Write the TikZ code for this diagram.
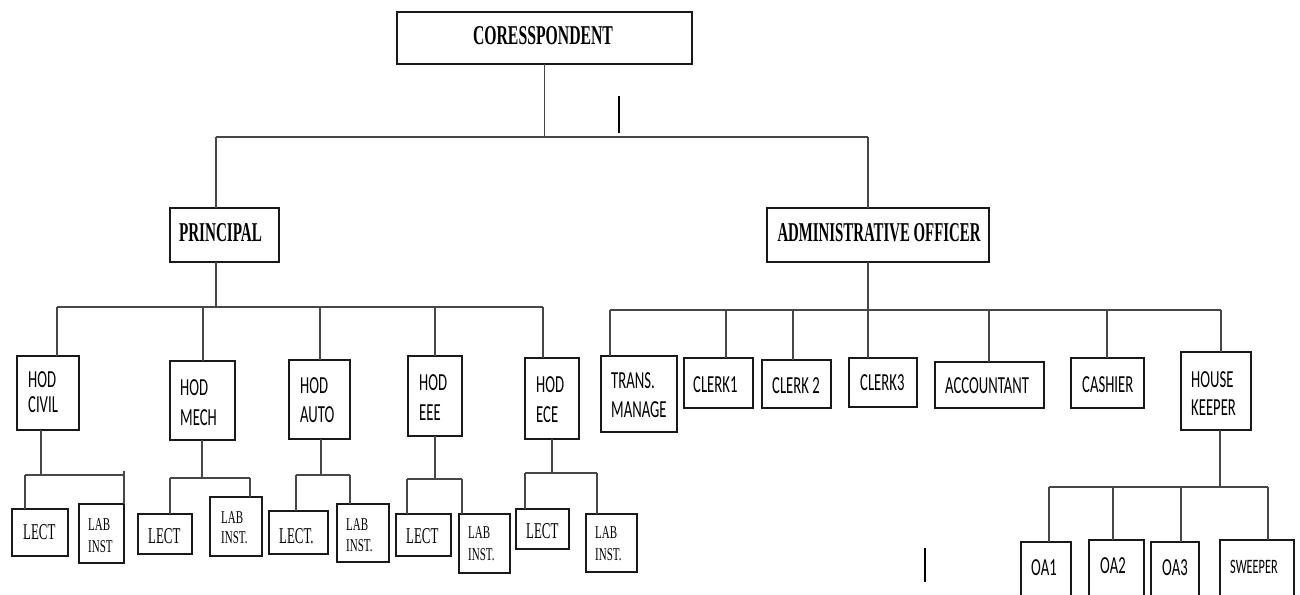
\documentclass[tikz,border=0pt]{standalone}
\usepackage{fontspec}
\setmainfont{Liberation Serif}
\newfontfamily\carlfont{Carlito}
\usepackage{graphicx}
\newcommand\mkbox[5]{\node[box,minimum width={#4pt-#2pt},minimum height={#5pt-#3pt}] (#1) at (#2,#3) {};}
\newcommand\stxt[4]{\node[sanst] (#1) at (#2,#3) {\scalebox{0.6}[1]{#4}};}
\newcommand\smtxt[4]{\node[sanssm] (#1) at (#2,#3) {\scalebox{0.6}[1]{#4}};}
\newcommand\lecttxt[4]{\node[lectt] (#1) at (#2,#3) {\scalebox{0.57}[1]{#4}};}
\newcommand\labtxt[4]{\node[labt] (#1) at (#2,#3) {\scalebox{0.61}[1]{#4}};}
\begin{document}
\begin{tikzpicture}[x=1pt,y=-1pt,
  box/.style={draw=black!90,line width=1.3pt,inner sep=0pt,outer sep=0pt,anchor=north west,fill=white},
  conn/.style={draw=black!72,line width=1.3pt},
  stray/.style={draw=black,line width=2pt},
  sanst/.style={anchor=base west,inner sep=0pt,font=\carlfont\fontsize{24.5}{24.5}\selectfont},
  sanssm/.style={anchor=base west,inner sep=0pt,font=\carlfont\fontsize{20.5}{20.5}\selectfont},
  lectt/.style={anchor=base west,inner sep=0pt,font=\fontsize{22.6}{22.6}\selectfont},
  labt/.style={anchor=base west,inner sep=0pt,font=\fontsize{18}{18}\selectfont},
  toptxt/.style={anchor=base,inner sep=0pt}]
\useasboundingbox (0,0) rectangle (1300,594);
\fill[white] (0,0) rectangle (1300,594);
\clip (0,0) rectangle (1300,594);

% ---------- boxes ----------
\mkbox{cor}{397}{12}{692}{64}
\mkbox{prin}{170}{208}{279}{262}
\mkbox{ao}{767}{208}{989}{262}
\mkbox{hcivil}{17}{356}{79}{430}
\mkbox{hmech}{170}{361}{235}{440}
\mkbox{hauto}{289}{360}{350}{439}
\mkbox{heee}{408}{356}{462}{436}
\mkbox{hece}{525}{358}{579}{439}
\mkbox{trans}{601}{356}{677}{432}
\mkbox{clerka}{684}{358}{753}{408}
\mkbox{clerkb}{762}{360}{831}{408}
\mkbox{clerkc}{849}{358}{917}{407}
\mkbox{acc}{935}{362}{1044}{408}
\mkbox{cash}{1071}{358}{1144}{408}
\mkbox{house}{1181}{352}{1251}{430}
\mkbox{lecta}{12}{509}{68}{556}
\mkbox{laba}{79}{504}{124}{563}
\mkbox{lectb}{138}{514}{192}{554}
\mkbox{labb}{210}{497}{262}{556}
\mkbox{lectc}{269}{511}{328}{554}
\mkbox{labc}{337}{504}{389}{562}
\mkbox{lectd}{396}{514}{451}{556}
\mkbox{labd}{459}{514}{510}{573}
\mkbox{lecte}{516}{509}{569}{549}
\mkbox{labe}{586}{514}{637}{572}
\mkbox{oaa}{1021}{542}{1071}{604}
\mkbox{oab}{1089}{540}{1144}{604}
\mkbox{oac}{1151}{542}{1199}{604}
\mkbox{sweep}{1220}{540}{1294}{604}

% ---------- bus coordinates ----------
\coordinate (tbL) at (216,137);
\coordinate (tbR) at (868,137);
\coordinate (p1) at (57,307);
\coordinate (p2) at (203,307);
\coordinate (p3) at (320,307);
\coordinate (p4) at (435,307);
\coordinate (p5) at (543,307);
\coordinate (pc) at (216,307);
\coordinate (cL) at (25,475);
\coordinate (c0) at (41,475);
\coordinate (cR) at (124,475);
\coordinate (cRt) at (124,471);
\coordinate (mL) at (170,478);
\coordinate (m0) at (202,478);
\coordinate (mR) at (250,478);
\coordinate (aL) at (296,475);
\coordinate (a0) at (321,475);
\coordinate (aR) at (350,475);
\coordinate (eL) at (407,479);
\coordinate (e0) at (435,479);
\coordinate (eR) at (462,479);
\coordinate (kL) at (525,473);
\coordinate (k0) at (552,473);
\coordinate (kR) at (597,473);
\coordinate (r1) at (610,310);
\coordinate (r2) at (726,310);
\coordinate (r3) at (793,310);
\coordinate (r4) at (868,310);
\coordinate (r5) at (989,310);
\coordinate (r6) at (1107,310);
\coordinate (r7) at (1221,310);
\coordinate (o0) at (1220,487);
\coordinate (o1) at (1049,487);
\coordinate (o2) at (1113,487);
\coordinate (o3) at (1181,487);
\coordinate (o4) at (1268,487);

% ---------- connectors ----------
\begin{scope}[on background layer/.style={}]
\draw[conn] (cor.south) -- (cor.south |- tbL);
\draw[conn] (tbL) -- (tbR);
\draw[conn] (tbL) -- (tbL |- prin.north);
\draw[conn] (tbR) -- (tbR |- ao.north);
\draw[conn] (pc |- prin.south) -- (pc);
\draw[conn] (p1) -- (p5);
\draw[conn] (p1) -- (p1 |- hcivil.north);
\draw[conn] (p2) -- (p2 |- hmech.north);
\draw[conn] (p3) -- (p3 |- hauto.north);
\draw[conn] (p4) -- (p4 |- heee.north);
\draw[conn] (p5) -- (p5 |- hece.north);
% civil
\draw[conn] (c0 |- hcivil.south) -- (c0);
\draw[conn] (cL) -- (cR) -- (cRt);
\draw[conn] (cL) -- (cL |- lecta.north);
\draw[conn] (cRt) -- (cRt |- laba.north);
% mech
\draw[conn] (m0 |- hmech.south) -- (m0);
\draw[conn] (mL) -- (mR);
\draw[conn] (mL) -- (mL |- lectb.north);
\draw[conn] (mR) -- (mR |- labb.north);
% auto
\draw[conn] (a0 |- hauto.south) -- (a0);
\draw[conn] (aL) -- (aR);
\draw[conn] (aL) -- (aL |- lectc.north);
\draw[conn] (aR) -- (aR |- labc.north);
% eee
\draw[conn] (e0 |- heee.south) -- (e0);
\draw[conn] (eL) -- (eR);
\draw[conn] (eL) -- (eL |- lectd.north);
\draw[conn] (eR) -- (eR |- labd.north);
% ece
\draw[conn] (k0 |- hece.south) -- (k0);
\draw[conn] (kL) -- (kR);
\draw[conn] (kL) -- (kL |- lecte.north);
\draw[conn] (kR) -- (kR |- labe.north);
% administrative side
\draw[conn] (r4 |- ao.south) -- (r4 |- clerkc.north);
\draw[conn] (r1) -- (r7);
\draw[conn] (r1) -- (r1 |- trans.north);
\draw[conn] (r2) -- (r2 |- clerka.north);
\draw[conn] (r3) -- (r3 |- clerkb.north);
\draw[conn] (r5) -- (r5 |- acc.north);
\draw[conn] (r6) -- (r6 |- cash.north);
\draw[conn] (r7) -- (r7 |- house.north);
% house keeper
\draw[conn] (o0 |- house.south) -- (o0);
\draw[conn] (o1) -- (o4);
\draw[conn] (o1) -- (o1 |- oaa.north);
\draw[conn] (o2) -- (o2 |- oab.north);
\draw[conn] (o3) -- (o3 |- oac.north);
\draw[conn] (o4) -- (o4 |- sweep.north);
\end{scope}

% stray marks
\draw[stray] (619,96) -- (619,133);
\draw[stray] (925,548) -- (925,582);

% ---------- texts ----------
\node[toptxt] (cor-t) at (543,45) {\resizebox{140pt}{18pt}{\bfseries CORESSPONDENT}};
\node[toptxt] (prin-t) at (220.5,241) {\resizebox{83pt}{18pt}{\bfseries PRINCIPAL}};
\node[toptxt] (ao-t) at (879,241) {\resizebox{203pt}{18pt}{\bfseries ADMINISTRATIVE OFFICER}};

\stxt{hcivil-a}{28}{387}{HOD}
\stxt{hcivil-b}{28}{412}{CIVIL}
\stxt{hmech-a}{180}{395}{HOD}
\stxt{hmech-b}{180}{425}{MECH}
\stxt{hauto-a}{300}{393}{HOD}
\stxt{hauto-b}{300}{422}{AUTO}
\stxt{heee-a}{419}{390}{HOD}
\stxt{heee-b}{419}{420}{EEE}
\stxt{hece-a}{536}{392}{HOD}
\stxt{hece-b}{536}{422}{ECE}
\stxt{trans-a}{611}{388}{TRANS.}
\stxt{trans-b}{611}{417}{MANAGE}
\stxt{clerka-t}{693}{392}{CLERK1}
\stxt{clerkb-t}{772}{393}{CLERK 2}
\stxt{clerkc-t}{860}{390}{CLERK3}
\stxt{acc-t}{945}{393}{ACCOUNTANT}
\stxt{cash-t}{1082}{392}{CASHIER}
\stxt{house-a}{1191}{387}{HOUSE}
\stxt{house-b}{1191}{415}{KEEPER}
\stxt{oaa-t}{1031}{575}{OA1}
\stxt{oab-t}{1100}{573}{OA2}
\stxt{oac-t}{1162}{575}{OA3}
\smtxt{sweep-t}{1230}{573}{SWEEPER}

\lecttxt{lecta-t}{23}{539}{LECT}
\lecttxt{lectb-t}{148}{543}{LECT}
\lecttxt{lectc-t}{279}{543}{LECT.}
\lecttxt{lectd-t}{406}{543}{LECT}
\lecttxt{lecte-t}{526}{538}{LECT}
\labtxt{laba-a}{88}{530}{LAB}
\labtxt{laba-b}{88}{552}{INST}
\labtxt{labb-a}{221}{523}{LAB}
\labtxt{labb-b}{221}{543}{INST.}
\labtxt{labc-a}{346}{530}{LAB}
\labtxt{labc-b}{346}{551}{INST.}
\labtxt{labd-a}{468}{538}{LAB}
\labtxt{labd-b}{468}{560}{INST.}
\labtxt{labe-a}{595}{538}{LAB}
\labtxt{labe-b}{595}{560}{INST.}
\end{tikzpicture}
\end{document}
